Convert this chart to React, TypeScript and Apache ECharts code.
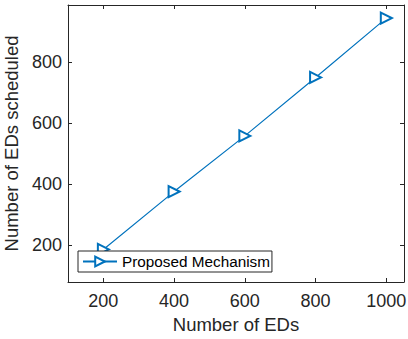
import React, { useEffect, useRef } from "react";
import * as echarts from "echarts";

const xValues = [200, 400, 600, 800, 1000];
const scheduled = [185, 375, 558, 750, 945];
const seriesName = "Proposed Mechanism";
const xTitle = "Number of EDs";
const yTitle = "Number of EDs scheduled";

const AXIS = "#262626";
const LINE = "#0072BD";
const FONT = "Liberation Sans, Arial, Helvetica, sans-serif";

export default function App() {
  const ref = useRef<HTMLDivElement>(null);
  useEffect(() => {
    if (!ref.current) return;
    const chart = echarts.init(ref.current, undefined, { renderer: "svg" });
    const baseAxis = {
      type: "value" as const,
      axisLine: { show: true, onZero: false, lineStyle: { color: AXIS, width: 1 } },
      axisTick: { show: true, inside: true, length: 4, lineStyle: { color: AXIS, width: 1 } },
      splitLine: { show: false },
    };
    const plain = (v: number) => String(v);
    chart.setOption({
      animation: false,
      backgroundColor: "#ffffff",
      textStyle: { fontFamily: FONT },
      grid: { left: 68, right: 4, top: 5, bottom: 57, containLabel: false, outerBoundsMode: "none" },
      xAxis: [
        {
          ...baseAxis,
          position: "bottom",
          min: 100,
          max: 1050,
          splitNumber: 5,
          name: xTitle,
          nameLocation: "middle",
          nameGap: 33,
          nameTextStyle: { color: AXIS, fontSize: 18.5, fontFamily: FONT },
          axisLabel: {
            color: AXIS,
            fontSize: 18,
            fontFamily: FONT,
            margin: 10,
            formatter: plain,
            showMinLabel: false,
            showMaxLabel: false,
          },
        },
        {
          ...baseAxis,
          position: "top",
          min: 100,
          max: 1050,
          splitNumber: 5,
          axisLabel: { show: false },
        },
      ],
      yAxis: [
        {
          ...baseAxis,
          position: "left",
          min: 78,
          max: 988,
          splitNumber: 5,
          name: yTitle,
          nameLocation: "middle",
          nameGap: 47,
          nameTextStyle: { color: AXIS, fontSize: 18.5, fontFamily: FONT },
          axisLabel: {
            color: AXIS,
            fontSize: 18,
            fontFamily: FONT,
            margin: 6,
            formatter: plain,
            showMinLabel: false,
            showMaxLabel: false,
          },
        },
        {
          ...baseAxis,
          position: "right",
          min: 78,
          max: 988,
          splitNumber: 5,
          axisLabel: { show: false },
        },
      ],
      legend: {
        show: true,
        left: 78,
        top: 251,
        orient: "vertical",
        z: 10,
        backgroundColor: "#ffffff",
        borderColor: AXIS,
        borderWidth: 1,
        borderRadius: 0,
        padding: [3, 2, 3, 4],
        itemWidth: 34,
        itemHeight: 12,
        itemGap: 0,
        textStyle: { color: "#000000", fontSize: 15.3, fontFamily: FONT },
        data: [seriesName],
      },
      series: [
        {
          name: seriesName,
          type: "line",
          data: xValues.map((x, i) => [x, scheduled[i]]),
          symbol: "emptyTriangle",
          symbolSize: 11,
          symbolRotate: -90,
          showAllSymbol: true,
          lineStyle: { color: LINE, width: 1.2 },
          itemStyle: { color: LINE, borderColor: LINE, borderWidth: 1.2 },
          emphasis: { disabled: true },
        },
      ],
    });
    return () => chart.dispose();
  }, []);
  return <div ref={ref} style={{ width: 408, height: 339, position: "absolute", left: 0, top: 0 }} />;
}
